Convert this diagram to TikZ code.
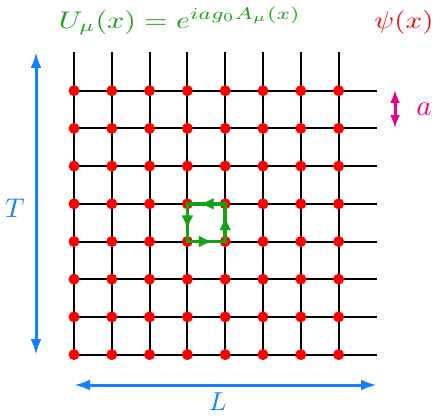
\documentclass[tikz,border=0pt]{standalone}
\usetikzlibrary{arrows.meta,decorations.markings}
\definecolor{plaqgreen}{RGB}{22,160,22}
\definecolor{dimblue}{RGB}{20,128,255}
\definecolor{dimpink}{RGB}{232,0,138}
\definecolor{sitered}{RGB}{255,0,0}
\tikzset{
  gridline/.style={line width=2pt,black},
  site/.style={circle,fill=sitered,inner sep=0pt,minimum size=11pt},
  plaq/.style={line width=3.5pt,plaqgreen,line join=miter,
    postaction={decorate,decoration={markings,
      mark=at position 25.5pt with {\arrow{Latex[length=14pt,width=12pt]}},
      mark=at position 63.3pt with {\arrow{Latex[length=14pt,width=12pt]}},
      mark=at position 101.1pt with {\arrow{Latex[length=14pt,width=12pt]}},
      mark=at position 138.9pt with {\arrow{Latex[length=14pt,width=12pt]}}}}},
  dimarrow/.style={line width=3pt,dimblue,{Latex[length=16pt,width=11pt]}-{Latex[length=16pt,width=11pt]}},
  spacing/.style={line width=3pt,dimpink,{Latex[length=13pt,width=10pt]}-{Latex[length=13pt,width=10pt]}},
  biglabel/.style={inner sep=0pt},
  toplabel/.style={inner sep=0pt,anchor=base},
}
\begin{document}
\begin{tikzpicture}[x=1pt,y=-1pt]
\useasboundingbox (0,0) rectangle (436,416);
% grid lines
\foreach \i in {0,...,7} {
  \draw[gridline] (74+37.8*\i,52) -- (74+37.8*\i,354.6);
  \draw[gridline] (74,90.7+37.7*\i) -- (377,90.7+37.7*\i);
}
% lattice sites
\foreach \i in {0,...,7} {
  \foreach \j in {0,...,7} {
    \node[site] (p\i\j) at (74+37.8*\i,90.7+37.7*\j) {};
  }
}
% plaquette
\draw[plaq] (p34.center) -- (p44.center) -- (p43.center) -- (p33.center) -- cycle;
% extent T
\coordinate (t1) at (36,52);
\coordinate (t2) at (36,355);
\draw[dimarrow] (t1) -- (t2);
\node[biglabel,text=dimblue] (tlab) at (15,208) {\scalebox{2.7}{$T$}};
% extent L
\coordinate (l1) at (74,385);
\coordinate (l2) at (377,385);
\draw[dimarrow] (l1) -- (l2);
\node[biglabel,text=dimblue] (llab) at (218,402) {\scalebox{2.6}{$L$}};
% spacing a
\coordinate (a1) at (395,90);
\coordinate (a2) at (395,128);
\draw[spacing] (a1) -- (a2);
\node[biglabel,text=dimpink] (alab) at (424,109) {\scalebox{2.9}{$a$}};
% labels
\node[toplabel,text=plaqgreen] (ulab) at (180,28) {\scalebox{3.0}[2.4]{$U_\mu(x)=e^{iag_0A_\mu(x)}$}};
\node[toplabel,text=sitered] (psilab) at (404,28) {\scalebox{2.9}[2.4]{$\psi(x)$}};
\end{tikzpicture}
\end{document}
